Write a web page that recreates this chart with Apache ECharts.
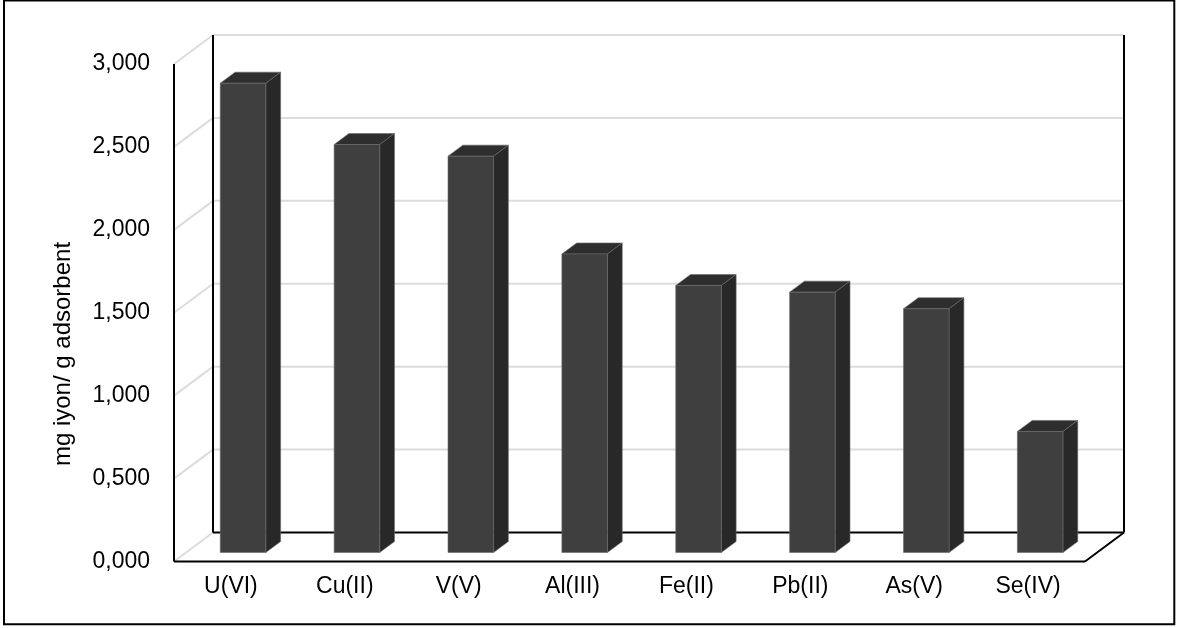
<!DOCTYPE html>
<html><head><meta charset="utf-8">
<script src="https://cdn.jsdelivr.net/npm/echarts@6/dist/echarts.min.js"></script>
<style>html,body{margin:0;padding:0;background:#fff}#c{width:1180px;height:628px}</style>
</head><body><div id="c"></div>
<script>
const categories = ['U(VI)', 'Cu(II)', 'V(V)', 'Al(III)', 'Fe(II)', 'Pb(II)', 'As(V)', 'Se(IV)'];
const values = [2.83, 2.46, 2.39, 1.80, 1.61, 1.57, 1.47, 0.73];
const yTicks = [0, 0.5, 1, 1.5, 2, 2.5, 3];
const yTitle = 'mg iyon/ g adsorbent';

const DX = 39, DY = -29;      // depth vector of the 3D box
const F0 = 0.31, F1 = 0.69;    // bar front/back depth fractions
const BAR = 0.4;               // bar width fraction of band
const FONT = "'Liberation Sans', Arial, sans-serif";

function frameItem(params, api) {
  const cs = params.coordSys;
  const L = cs.x, R = cs.x + cs.width;
  const children = [];
  const gray = { stroke: '#dcdcdc', lineWidth: 2 };
  const black = { stroke: '#000', lineWidth: 2 };
  const line = (x1, y1, x2, y2, st, z) => children.push({ type: 'line', shape: { x1, y1, x2, y2 }, style: st, z2: z || 0 });
  const yOf = t => api.coord([0, t])[1];
  yTicks.forEach(t => {
    const y = yOf(t);
    line(L, y, L + DX, y + DY, gray);
    if (t !== 0) line(L + DX, y + DY, R + DX, y + DY, gray);
  });
  const y0 = yOf(0), yTop = yOf(yTicks[yTicks.length - 1]);
  line(L + DX, y0 + DY, R + DX, y0 + DY, black, 1);
  line(L, yTop, L, y0, black, 1);
  line(L + DX, yTop + DY, L + DX, y0 + DY, black, 1);
  line(R + DX, yTop + DY, R + DX, y0 + DY, black, 1);
  line(L, y0, R, y0, black, 1);
  line(R, y0, R + DX, y0 + DY, black, 1);
  return { type: 'group', children };
}

function barItem(params, api) {
  const i = api.value(0), v = api.value(1);
  const p0 = api.coord([i, 0]), p1 = api.coord([i, v]);
  const hw = api.size([1, 0])[0] * BAR / 2;
  const l = p0[0] - hw, r = p0[0] + hw, b = p0[1], t = p1[1];
  const fx = DX * F0, fy = DY * F0, bx = DX * F1, by = DY * F1;
  const edge = { stroke: '#6a6a6a', lineWidth: 0.6 };
  return { type: 'group', children: [
    { type: 'polygon', shape: { points: [[l + fx, t + fy], [l + bx, t + by], [r + bx, t + by], [r + fx, t + fy]] }, style: Object.assign({ fill: '#2e2e2e' }, edge) },
    { type: 'polygon', shape: { points: [[r + fx, t + fy], [r + bx, t + by], [r + bx, b + by], [r + fx, b + fy]] }, style: Object.assign({ fill: '#282828' }, edge) },
    { type: 'rect', shape: { x: l + fx, y: t + fy, width: r - l, height: b - t }, style: Object.assign({ fill: '#3f3f3f' }, edge) }
  ] };
}

const chart = echarts.init(document.getElementById('c'), null, { renderer: 'canvas' });
chart.setOption({
  animation: false,
  backgroundColor: '#fff',
  grid: { left: 174, right: 95, top: 64, bottom: 66.5, containLabel: false },
  xAxis: {
    type: 'category', data: categories,
    axisLine: { show: false }, axisTick: { show: false }, splitLine: { show: false },
    axisLabel: { fontSize: 23, color: '#000', fontFamily: FONT, margin: 14 }
  },
  yAxis: {
    type: 'value', min: 0, max: 3, interval: 0.5,
    axisLine: { show: false }, axisTick: { show: false }, splitLine: { show: false },
    axisLabel: { fontSize: 23, color: '#000', fontFamily: FONT, margin: 24, padding: [8, 0, 0, 0],
      formatter: v => v.toFixed(3).replace('.', ',') }
  },
  graphic: [
    { type: 'rect', shape: { x: 4, y: 0.5, width: 1170.3, height: 623.8 }, style: { fill: 'none', stroke: '#000', lineWidth: 2 }, z: 10 },
    { type: 'text', x: 63, y: 354, rotation: Math.PI / 2,
      style: { text: yTitle, font: "24px 'Liberation Sans', Arial, sans-serif", align: 'center', verticalAlign: 'middle', fill: '#000' } }
  ],
  series: [
    { type: 'custom', renderItem: frameItem, data: [[0, 0]], z: 1, silent: true },
    { type: 'custom', renderItem: barItem, data: values.map((v, i) => [i, v]), z: 2 }
  ]
});
</script></body></html>
